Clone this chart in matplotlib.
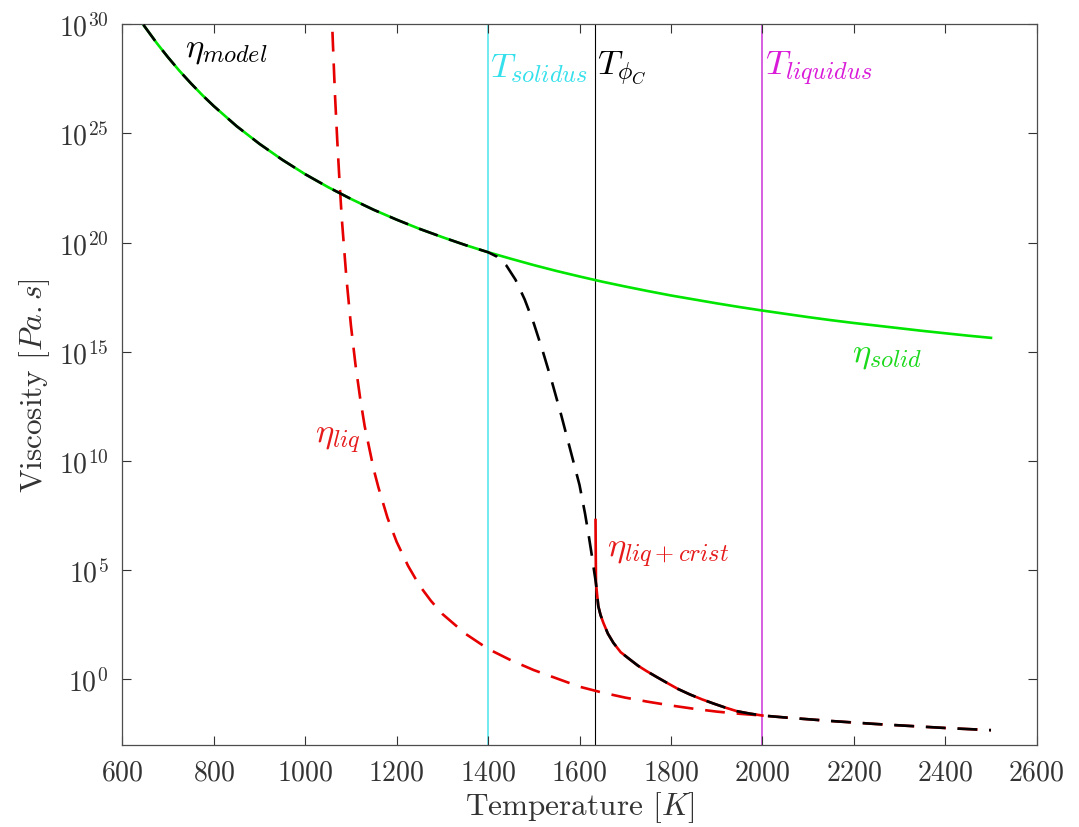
import numpy as np
import matplotlib
matplotlib.use("Agg")
import matplotlib.pyplot as plt

plt.rcParams['font.family'] = 'serif'
plt.rcParams['font.serif'] = ['cmr10']
plt.rcParams['mathtext.fontset'] = 'cm'
plt.rcParams['axes.formatter.use_mathtext'] = True
plt.rcParams['axes.unicode_minus'] = False

# temperatures [K] and log10 of viscosity [Pa.s]
T_solid = [646, 675, 700, 725, 750, 775, 800, 850, 900, 950, 1000, 1050, 1100, 1150,
           1200, 1250, 1300, 1350, 1400,
           1450, 1500, 1550, 1600, 1650, 1700, 1750, 1800, 1850, 1900, 1950,
           2000, 2050, 2100, 2150, 2200, 2250, 2300, 2350, 2400, 2450, 2500]
log_solid = [29.97, 29.14, 28.48, 27.86, 27.29, 26.75, 26.25, 25.33, 24.52, 23.79, 23.13,
             22.54, 22.0, 21.5, 21.05, 20.63, 20.25, 19.89, 19.56,
             19.26, 18.97, 18.7, 18.45, 18.21, 17.99, 17.78, 17.58, 17.4, 17.22, 17.05,
             16.89, 16.74, 16.59, 16.45, 16.32, 16.2, 16.08, 15.96, 15.85, 15.74, 15.64]

T_liq = [1057, 1060, 1065, 1070, 1075, 1080, 1090, 1100, 1110, 1120, 1130, 1140, 1150,
         1160, 1180, 1200, 1225, 1250, 1275, 1300, 1350, 1400, 1450, 1500, 1550, 1600,
         1650, 1700, 1750, 1800, 1850, 1900, 1950, 2000,
         2050, 2100, 2150, 2200, 2250, 2300, 2350, 2400, 2450, 2500]
log_liq = [31.1, 29.4, 26.8, 24.7, 22.8, 21.1, 18.4, 16.2, 14.4, 12.9, 11.6, 10.6, 9.6,
           8.8, 7.4, 6.3, 5.2, 4.3, 3.6, 3.0, 2.1, 1.4, 0.88, 0.43, 0.05, -0.33,
           -0.6, -0.83, -1.02, -1.19, -1.34, -1.47, -1.57, -1.65,
           -1.74, -1.82, -1.9, -1.97, -2.04, -2.1, -2.16, -2.22, -2.27, -2.32]

T_cryst = [1635, 1636, 1641, 1646, 1652, 1662, 1674, 1690, 1710, 1728, 1747, 1770, 1791,
           1815, 1842, 1868, 1893, 1918, 1944, 1972, 2000]
log_cryst = [7.3, 4.4, 3.36, 2.95, 2.6, 2.1, 1.68, 1.25, 0.92, 0.63, 0.38, 0.1, -0.15,
             -0.43, -0.69, -0.91, -1.1, -1.28, -1.45, -1.56, -1.65]

# model in the partial-melt range, between T_solidus and T_phiC
T_trans = [1420, 1440, 1460, 1480, 1500, 1520, 1540, 1560, 1580, 1600, 1612, 1620, 1626, 1632]
log_trans = [19.35, 18.95, 18.3, 17.4, 16.3, 15.0, 13.6, 12.1, 10.5, 8.9, 7.6, 6.6, 5.8, 4.95]

T_solidus = 1400
T_phiC = 1633
T_liquidus = 2000

# model: solid below solidus, transition, liq+crist up to liquidus, then liquid
n_sol = T_solid.index(T_solidus) + 1
n_liq = T_liq.index(T_liquidus) + 1
T_model = T_solid[:n_sol] + T_trans + T_cryst[1:] + T_liq[n_liq:]
log_model = log_solid[:n_sol] + log_trans + log_cryst[1:] + log_liq[n_liq:]

fig = plt.figure(figsize=(10.79, 8.28), dpi=100)
ax = fig.add_axes([0.1134, 0.0990, 0.8474, 0.8706])

ax.set_yscale('log')
ax.set_xlim(600, 2600)
ax.set_ylim(1e-3, 1e30)

ax.axvline(T_solidus, color=(0.3, 0.9, 0.92), lw=1.1, zorder=1)
ax.axvline(T_phiC, color='k', lw=0.8, zorder=1)
ax.axvline(T_liquidus, color=(0.8, 0.2, 0.85), lw=1.1, zorder=1)

lw = 1.9
ax.plot(T_solid, 10.0**np.array(log_solid), color=(0.0, 0.9, 0.0), lw=lw, zorder=2)
ax.plot(T_liq, 10.0**np.array(log_liq), color=(0.9, 0.0, 0.0), lw=lw,
        dashes=(7.5, 4.5), zorder=2)
ax.plot(T_cryst, 10.0**np.array(log_cryst), color=(0.9, 0.0, 0.0), lw=lw, zorder=2)
ax.plot(T_model, 10.0**np.array(log_model), color='k', lw=lw,
        dashes=(7.5, 4.5), zorder=3)

fs = 20
afs = 25
ax.text(737, 10**28.85, r'$\eta_{model}$', fontsize=afs, va='center', color='k')
ax.text(1405, 10**28.0, r'$T_{solidus}$', fontsize=afs, va='center', color=(0.2, 0.88, 0.92))
ax.text(1639, 10**28.0, r'$T_{\phi_C}$', fontsize=afs, va='center', color='k')
ax.text(2006, 10**28.0, r'$T_{liquidus}$', fontsize=afs, va='center', color=(0.85, 0.1, 0.85))
ax.text(2196, 10**14.9, r'$\eta_{solid}$', fontsize=afs, va='center', color=(0.1, 0.85, 0.1))
ax.text(1022, 10**11.0, r'$\eta_{liq}$', fontsize=afs, va='center', color=(0.9, 0.1, 0.1))
ax.text(1661, 10**5.8, r'$\eta_{liq+crist}$', fontsize=afs, va='center', color=(0.9, 0.1, 0.1))

ax.set_xticks(np.arange(600, 2601, 200))
ax.set_yticks([10.0**k for k in range(0, 31, 5)])
ax.minorticks_off()
ax.tick_params(direction='in', length=6.5, width=0.8, top=True, right=True,
               labelsize=fs, colors='0.2', pad=10)
for s in ax.spines.values():
    s.set_color('0.3')
    s.set_linewidth(0.9)

ax.set_xlabel(r'Temperature $[K]$', fontsize=22.5, color='0.2', labelpad=3)
ax.set_ylabel(r'Viscosity $[Pa{.}s]$', fontsize=22.5, color='0.2', labelpad=5)

fig.savefig('out.png', dpi=100)
